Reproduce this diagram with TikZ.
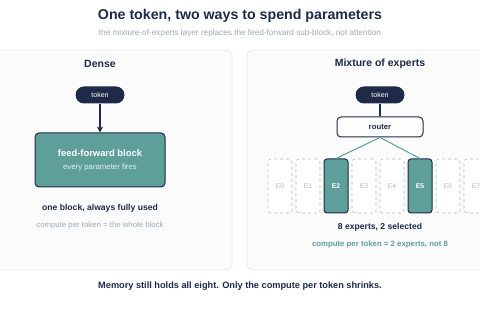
\documentclass[tikz,border=0pt]{standalone}
\usepackage{fontspec}
\setmainfont{Liberation Sans}
\usetikzlibrary{arrows.meta, positioning}

\definecolor{navy}{HTML}{1F2A48}
\definecolor{moeteal}{HTML}{5E9F9A}
\definecolor{softgray}{HTML}{A3A8B2}
\definecolor{panelbg}{HTML}{FBFBFC}
\definecolor{panelline}{HTML}{E6E8EC}
\definecolor{idlegray}{HTML}{B4B8BF}

\begin{document}
\begin{tikzpicture}[x=1pt, y=-1pt,
  panel/.style={draw=panelline, fill=panelbg, rounded corners=6pt, line width=0.7pt},
  pill/.style={rectangle, rounded corners=8.5pt, fill=navy, text=white,
               minimum width=49pt, minimum height=17pt, inner sep=0pt,
               font=\fontsize{7}{8}\selectfont},
  ffblock/.style={rectangle, rounded corners=4pt, draw=navy, line width=1pt, fill=moeteal,
                  minimum width=130pt, minimum height=54pt, align=center, text=white},
  routerbox/.style={rectangle, rounded corners=4pt, draw=navy, line width=1pt, fill=white,
                    minimum width=86pt, minimum height=20pt, inner sep=0pt,
                    font=\bfseries\fontsize{7.8}{9}\selectfont, text=navy},
  idle/.style={rectangle, rounded corners=3pt, draw=idlegray, dashed, line width=0.6pt,
               fill=white, minimum width=24pt, minimum height=54pt, inner sep=0pt,
               font=\fontsize{6.8}{8}\selectfont, text=idlegray},
  chosen/.style={rectangle, rounded corners=3pt, draw=navy, line width=1pt,
                 fill=moeteal, minimum width=24pt, minimum height=54pt, inner sep=0pt,
                 font=\bfseries\fontsize{6.8}{8}\selectfont, text=white},
  heading/.style={font=\bfseries\fontsize{10.5}{12}\selectfont, text=navy},
  caption/.style={font=\bfseries\fontsize{8.6}{10}\selectfont, text=navy},
  note/.style={font=\fontsize{7.8}{9}\selectfont, text=softgray},
  arrow/.style={-{Stealth[length=6pt, width=6pt]}, line width=1.3pt, draw=navy},
  wire/.style={line width=1pt, draw=moeteal},
]
  \useasboundingbox (0,0) rectangle (480,320);
  \clip (0,0) rectangle (480,320);
  \fill[white] (0,0) rectangle (480,320);

  % title
  \node[font=\bfseries\fontsize{14.2}{16}\selectfont, text=navy] (title) at (240,16)
    {One token, two ways to spend parameters};
  \node[font=\fontsize{8.2}{10}\selectfont, text=softgray] (subtitle) at (240,33)
    {the mixture-of-experts layer replaces the feed-forward sub-block, not attention};

  % panels
  \draw[panel] (-32,50) rectangle (232,270);
  \draw[panel] (247,50) rectangle (513,270);

  % dense side
  \node[heading] (dense) at (100,64) {Dense};
  \node[pill] (dtoken) at (100,95) {token};
  \node[ffblock] (ffn) at (100,160)
    {{\bfseries\fontsize{9.4}{11}\selectfont feed-forward block}\\[1pt]
     {\fontsize{7.8}{9}\selectfont\color{white!85!moeteal} every parameter fires}};
  \node[caption] (dcap) at (100,208) {one block, always fully used};
  \node[note, below=2.5pt of dcap] (dnote) {compute per token = the whole block};

  \draw[arrow] (dtoken) -- (ffn);

  % mixture of experts side
  \node[heading] (moe) at (380,64) {Mixture of experts};
  \node[pill] (mtoken) at (380,95) {token};
  \node[routerbox] (router) at (380,127) {router};
  \foreach \i in {0,...,7} {
    \pgfmathsetmacro{\ex}{280+\i*28}
    \ifnum\i=2 \def\kind{chosen}\else\ifnum\i=5 \def\kind{chosen}\else\def\kind{idle}\fi\fi
    \node[\kind] (e\i) at (\ex,186) {E\i};
  }
  \node[caption] (mcap) at (380,227) {8 experts, 2 selected};
  \node[note, font=\bfseries\fontsize{7.8}{9}\selectfont, text=moeteal, below=2.5pt of mcap] (mnote)
    {compute per token = 2 experts, not 8};

  \draw[navy, line width=1.3pt] (mtoken) -- (router);
  \draw[wire] (router.south) -- (e2.north);
  \draw[wire] (router.south) -- (e5.north);

  % footer
  \node[font=\bfseries\fontsize{9.2}{11}\selectfont, text=navy] (footer) at (240,286)
    {Memory still holds all eight. Only the compute per token shrinks.};
\end{tikzpicture}
\end{document}
